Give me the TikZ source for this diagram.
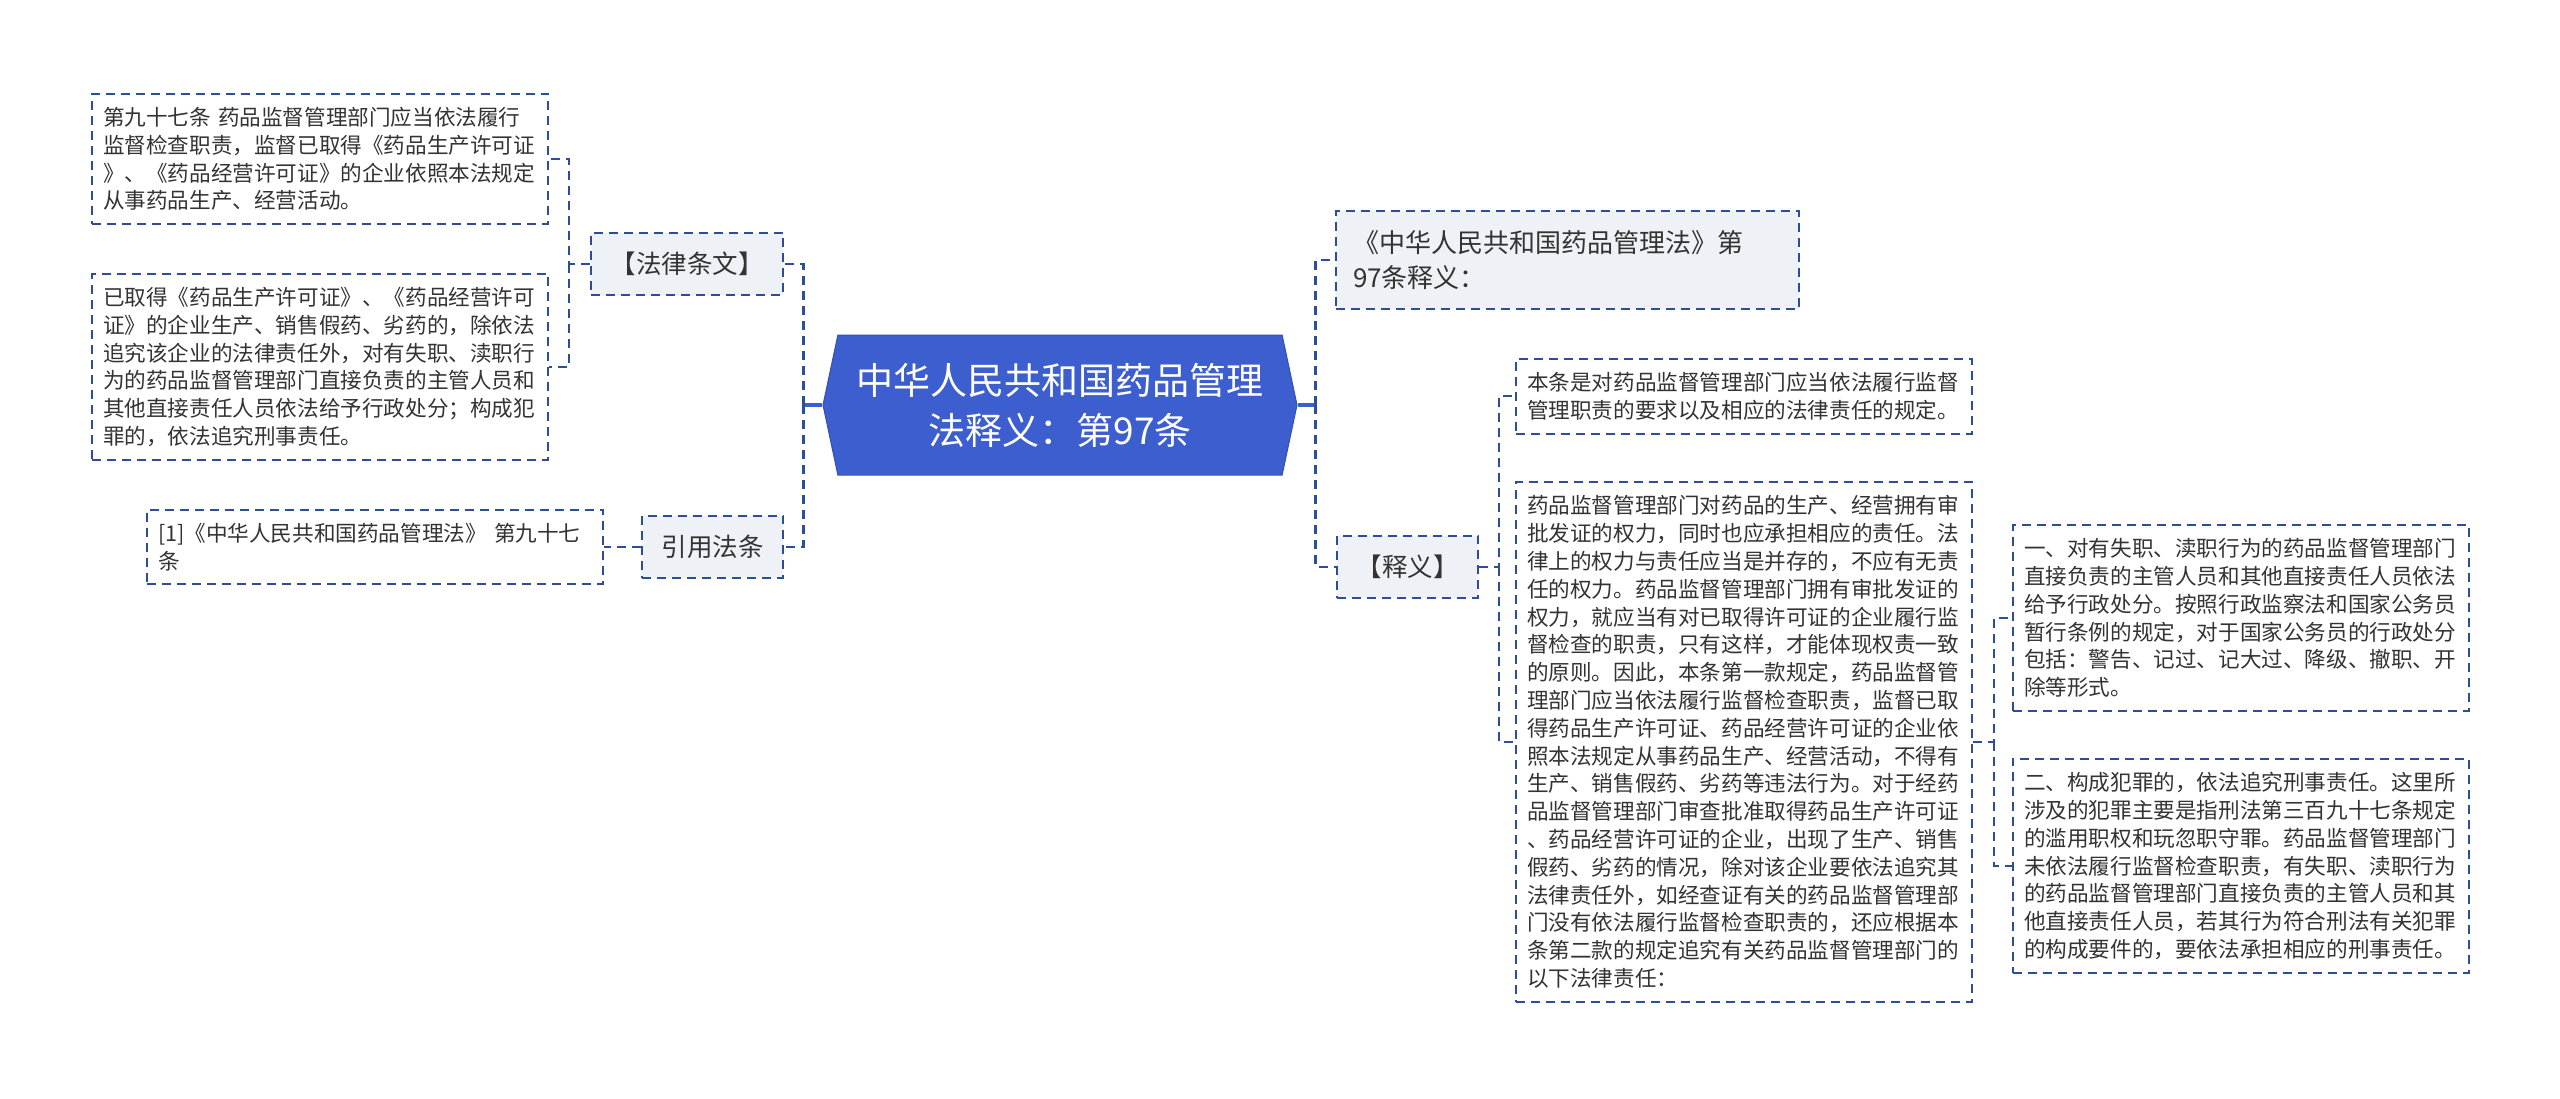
\documentclass[tikz,border=0pt]{standalone}
\usepackage{fontspec}
\setmainfont{Noto Sans CJK SC}
\usetikzlibrary{shapes.symbols}
\definecolor{rootblue}{RGB}{61,94,206}
\definecolor{linkblue}{RGB}{45,78,150}
\definecolor{topicgray}{RGB}{238,241,245}
\definecolor{inkgray}{RGB}{51,51,51}
\tikzset{
  leaf/.style={draw=linkblue, line width=2pt, dash pattern=on 9pt off 6pt, fill=white,
    text=inkgray, text width=434pt, align=left, inner xsep=11pt, inner ysep=13.5pt,
    font=\fontsize{21.6}{27.8}\selectfont},
  topic/.style={draw=linkblue, line width=2pt, dash pattern=on 9pt off 6pt, fill=topicgray,
    text=inkgray, inner xsep=19.5pt, inner ysep=19.5pt, font=\fontsize{25.5}{35}\selectfont},
  link/.style={draw=linkblue, line width=2.5pt, dash pattern=on 9pt off 6pt},
  stem/.style={draw=rootblue, line width=4pt},
}
\begin{document}
\begin{tikzpicture}[x=1pt, y=-1pt]
\useasboundingbox (0,0) rectangle (2560,1098);

\node (root) [signal, signal to=west and east, signal pointer angle=156, fill=rootblue,
  draw=rootblue!85!black, line width=1pt, minimum width=474pt, minimum height=140pt,
  text=white, align=center, font=\fontsize{37}{50}\selectfont] at (1060,405)
  {中华人民共和国药品管理\\法释义：第97条};

% left side
\node (law) [topic, anchor=east] at (784,264) {【法律条文】};
\node (cite) [topic, anchor=east] at (784,547) {引用法条};
\node (art1) [leaf, anchor=east] at (549,159)
  {第九十七条 药品监督管理部门应当依法履行\\监督检查职责，监督已取得《药品生产许可证\\》、《药品经营许可证》的企业依照本法规定\\从事药品生产、经营活动。};
\node (art2) [leaf, anchor=east] at (549,367)
  {已取得《药品生产许可证》、《药品经营许可\\证》的企业生产、销售假药、劣药的，除依法\\追究该企业的法律责任外，对有失职、渎职行\\为的药品监督管理部门直接负责的主管人员和\\其他直接责任人员依法给予行政处分；构成犯\\罪的，依法追究刑事责任。};
\node (ref) [leaf, anchor=east] at (604,547)
  {[1]《中华人民共和国药品管理法》 第九十七\\条};

% right side
\node (title) [topic, anchor=west, text width=429pt, align=left, inner xsep=17pt,
  font=\fontsize{26}{35}\selectfont] at (1335,260)
  {《中华人民共和国药品管理法》第\\97条释义：};
\node (expl) [topic, anchor=west] at (1336,567) {【释义】};
\node (note) [leaf, anchor=west] at (1515,396)
  {本条是对药品监督管理部门应当依法履行监督\\管理职责的要求以及相应的法律责任的规定。};
\node (detail) [leaf, anchor=west] at (1515,742)
  {药品监督管理部门对药品的生产、经营拥有审\\批发证的权力，同时也应承担相应的责任。法\\律上的权力与责任应当是并存的，不应有无责\\任的权力。药品监督管理部门拥有审批发证的\\权力，就应当有对已取得许可证的企业履行监\\督检查的职责，只有这样，才能体现权责一致\\的原则。因此，本条第一款规定，药品监督管\\理部门应当依法履行监督检查职责，监督已取\\得药品生产许可证、药品经营许可证的企业依\\照本法规定从事药品生产、经营活动，不得有\\生产、销售假药、劣药等违法行为。对于经药\\品监督管理部门审查批准取得药品生产许可证\\、药品经营许可证的企业，出现了生产、销售\\假药、劣药的情况，除对该企业要依法追究其\\法律责任外，如经查证有关的药品监督管理部\\门没有依法履行监督检查职责的，还应根据本\\条第二款的规定追究有关药品监督管理部门的\\以下法律责任：};
\node (dutyA) [leaf, anchor=west] at (2012,618)
  {一、对有失职、渎职行为的药品监督管理部门\\直接负责的主管人员和其他直接责任人员依法\\给予行政处分。按照行政监察法和国家公务员\\暂行条例的规定，对于国家公务员的行政处分\\包括：警告、记过、记大过、降级、撤职、开\\除等形式。};
\node (dutyB) [leaf, anchor=west] at (2012,866)
  {二、构成犯罪的，依法追究刑事责任。这里所\\涉及的犯罪主要是指刑法第三百九十七条规定\\的滥用职权和玩忽职守罪。药品监督管理部门\\未依法履行监督检查职责，有失职、渎职行为\\的药品监督管理部门直接负责的主管人员和其\\他直接责任人员，若其行为符合刑法有关犯罪\\的构成要件的，要依法承担相应的刑事责任。};

% connectors
\coordinate (jl) at ([xshift=-19pt]root.west);
\coordinate (jr) at ([xshift=18pt]root.east);
\coordinate (jlaw) at ([xshift=-21pt]law.west);
\coordinate (jexpl) at ([xshift=20pt]expl.east);
\coordinate (jdet) at ([xshift=21pt]detail.east);
\draw[stem] (root.west) -- (jl);
\draw[stem] (root.east) -- (jr);
\draw[link] (jl) |- (law.east);
\draw[link] (jl) |- (cite.east);
\draw[link] (law.west) -- (jlaw) |- (art1.east);
\draw[link] (jlaw) |- (art2.east);
\draw[link] (cite.west) -- (ref.east);
\draw[link] (jr) |- (title.west);
\draw[link] (jr) |- (expl.west);
\draw[link] (expl.east) -- (jexpl) |- (note.west);
\draw[link] (jexpl) |- (detail.west);
\draw[link] (detail.east) -- (jdet) |- (dutyA.west);
\draw[link] (jdet) |- (dutyB.west);
\end{tikzpicture}
\end{document}
